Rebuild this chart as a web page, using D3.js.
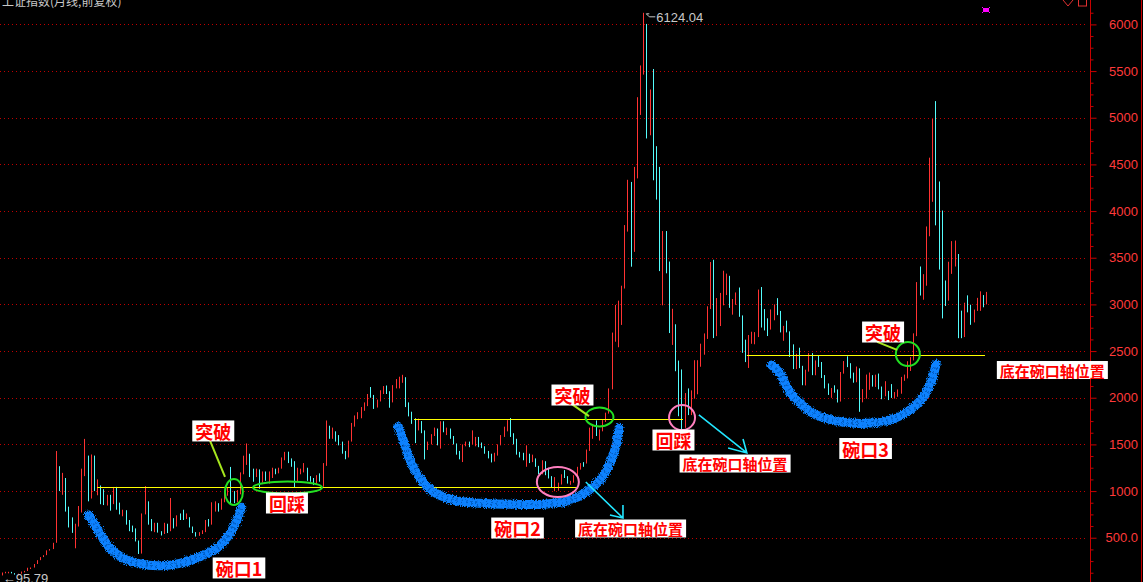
<!DOCTYPE html>
<html>
<head>
<meta charset="utf-8">
<script src="https://cdn.jsdelivr.net/npm/d3@7"></script>
<style>
  html, body { margin: 0; padding: 0; background: #000; overflow: hidden; }
  svg { display: block; }
</style>
</head>
<body>
<svg id="chart" width="1143" height="582"></svg>
<script>
// 上证指数 monthly bars, first bar = 1990-12, last bar = 2016-10
var firstMonth = '1990-12';

var opens = [96.05,
  127.61,129.97,133.01,120.19,113.94,114.83,137.56,143.80,178.43,180.22,218.62,259.60,
  292.75,313.24,364.79,378.30,445.79,1265.79,1050,1135,823,703,603,639,
  780,1238,1358,925,1358,1007,1042,1007,898,903,868,1033,
  833,770,793,680,620,595,467,333.9,759,880,680,574,
  647,562,549,648,580,700,630,722,716,705,717,618,
  555,537,553,572,672,643,816,858,831,918,976,1032,
  917,914,970,1191,1371,1394,1224,1196,1229,1096,1202,1145,
  1194,1233,1206,1243,1343,1411,1339,1313,1105,1211,1217,1247,
  1146,1134,1090,1158,1120,1279,1689,1601,1627,1557,1512,1427,
  1367,1535,1714,1800,1836,1894,1928,2023,2021,1910,1961,2070,
  2073,2065,1959,2112,2119,2214,2218,1920,1834,1764,1689,1747,
  1645,1491,1524,1603,1667,1515,1732,1651,1669,1581,1507,1421,
  1357,1499,1511,1510,1521,1576,1486,1476,1421,1367,1348,1397,
  1497,1590,1675,1741,1595,1555,1399,1386,1342,1396,1320,1340,
  1266,1191,1306,1181,1159,1060,1080,1083,1162,1155,1092,1099,
  1161,1258,1299,1298,1440,1641,1672,1612,1658,1752,1837,2099,
  2675,2786,2881,3183,3841,4109,3820,4471,5218,5552,5954,4871,
  5261,4383,4348,3472,3693,3433,2736,2775,2397,2293,1728,1871,
  1821,1990,2082,2373,2477,2632,2959,3412,2667,2779,2996,3195,
  3277,2989,3051,3109,2870,2592,2398,2638,2638,2655,2979,2820,
  2808,2790,2905,2928,2911,2743,2762,2701,2568,2359,2468,2333,
  2199,2292,2428,2262,2396,2372,2225,2103,2047,2086,2069,1980,
  2269,2385,2365,2236,2177,2300,1979,1994,2098,2175,2141,2220,
  2116,2033,2056,2033,2026,2039,2048,2201,2217,2364,2420,2683,
  3235,3210,3310,3748,4441,4612,4277,3664,3206,3053,3383,3445,
  3539,2738,2688,3004,2938,2917,2930,2979,3085,3005];

var highs = [127.61,
  135.19,134.87,134.25,120.72,114.88,137.56,145.09,178.43,180.92,218.62,259.60,292.75,
  313.24,364.79,378.38,445.79,1429.01,1266.49,1195,1140,833,718,650,840,
  1240,1558.95,1380,1392,1380,1125,1060,1020,960,960,1044,1045,
  876,800,795,690,630,600,470,760,1052.94,890,700,660,
  660,570,660,650,926,710,740,760,800,760,720,620,
  560,560,580,690,700,880,890,870,920,1000,1040,1258.69,
  1000,1010,1200,1379,1510.18,1400,1240,1240,1232,1210,1210,1210,
  1250,1240,1250,1360,1420,1422,1350,1320,1250,1240,1300,1250,
  1160,1140,1170,1190,1300,1756,1700,1680,1640,1600,1530,1430,
  1540,1730,1810,1845,1900,1950,2040,2115,2030,1980,2080,2125,
  2131,2070,2135,2200,2225,2245.44,2220,1950,1850,1780,1776,1750,
  1650,1530,1610,1680,1670,1748,1748,1680,1670,1590,1510,1430,
  1500,1530,1530,1650,1580,1580,1520,1480,1430,1400,1410,1500,
  1600,1690,1760,1783,1620,1560,1420,1410,1490,1400,1390,1350,
  1270,1330,1320,1250,1160,1150,1090,1180,1225,1160,1110,1170,
  1260,1300,1310,1445,1680,1700,1757,1660,1760,1840,2100,2698,
  2994,3040,3200,3850,4335,4312,4473,5220,5560,6124.04,6005,5303,
  5522,4695,4473,3786,3786,3459,2953,2787,2398,2303,2050,2100,
  2079,2402,2402,2579,2689,2980,3454,3478,3068,3123,3361,3330,
  3306,3058,3128,3181,2882,2622,2672,2707,2703,3159,3186,2950,
  2851,2946,3000,3067,2930,2770,2826,2711,2572,2472,2536,2342,
  2300,2478,2478,2400,2453,2383,2243,2153,2104,2133,2089,2276,
  2393,2444,2370,2269,2334,2315,2092,2248,2270,2242,2247,2259,
  2120,2177,2073,2146,2061,2089,2223,2248,2391,2435,2690,3239,
  3406,3324,3835,4572,4986,5178,4317,4006,3256,3457,3678,3684,
  3540,2933,3018,3097,2996,2945,3070,3140,3100,3134];

var lows = [95.79,
  127.61,128.06,120.20,113.91,104.96,114.53,136.08,143.56,175.06,180.22,218.62,259.60,
  292.76,313.44,364.79,378.30,445.79,1000,960,780,610,552,386.85,620,
  770,1160,890,920,1000,955,859,850,845,790,860,800,
  750,730,640,570,560,460,325.89,330,750,640,570,560,
  555,524,540,550,570,600,620,690,690,700,610,550,
  512.83,520,540,560,620,640,780,780,800,880,950,855,
  870,880,965,1180,1280,1150,1100,1150,1025,1090,1110,1080,
  1140,1180,1190,1240,1330,1300,1260,1043,1100,1180,1200,1110,
  1100,1064,1080,1100,1047,1270,1560,1560,1530,1490,1400,1341,
  1360,1530,1690,1770,1780,1860,1910,2000,1880,1895,1960,2040,
  2040,1893,1950,2100,2100,2160,1900,1800,1720,1514,1650,1620,
  1339,1440,1500,1590,1490,1455,1630,1600,1560,1500,1390,1340,
  1311,1480,1470,1500,1480,1470,1460,1400,1350,1307,1316,1380,
  1490,1580,1640,1580,1500,1390,1360,1330,1260,1300,1310,1259,
  1180,1180,1170,1135,1040,998.23,1004,1070,1140,1080,1067,1090,
  1150,1230,1260,1295,1430,1560,1590,1541,1640,1740,1830,2090,
  2600,2541,2780,3170,3780,3404,3563,4350,5030,5462,4778,4812,
  4330,4123,3357,2990,3333,2693,2566,2284,1802,1664.93,1678,1814,
  1814,1990,2037,2332,2461,2630,2950,2639,2660,2768,2990,3100,
  2963,2890,2996,2867,2481,2382,2319,2578,2573,2650,2752,2721,
  2661,2730,2830,2885,2700,2610,2700,2437,2307,2307,2317,2134,
  2132,2280,2242,2241,2330,2211,2100,2030,1999,2054,1949,1959,
  2258,2328,2207,2161,2166,1849,1951,1990,2085,2119,2116,2090,
  1984,2016,1975,1998,1991,2010,2043,2181,2207,2287,2400,2660,
  3095,3050,3200,3730,4099,3847,3373,2850,2983,3040,3327,3406,
  2638,2638,2650,2915,2781,2807,2930,2931,2969,3000];

var closes = [127.61,
  129.97,133.01,120.19,113.94,114.83,137.56,143.80,178.43,180.22,218.62,259.60,292.75,
  313.24,364.79,378.30,445.79,1265.79,1050,1135,823,703,603,639,780.39,
  1238,1358,925,1358,1007,1042,1007,898,903,868,1033,833,
  770,793,680,620,595,467,333.9,759,880,680,574,647.87,
  562,549,648,580,700,630,722,716,705,717,618,555,
  537,553,572,672,643,816,858,831,918,976,1032,917,
  914,970,1191,1371,1394,1224,1196,1229,1096,1202,1145,1194,
  1233,1206,1243,1343,1411,1339,1313,1105,1211,1217,1247,1146,
  1134,1090,1158,1120,1279,1689,1601,1627,1557,1512,1427,1367,
  1535,1714,1800,1836,1894,1928,2023,2021,1910,1961,2070,2073,
  2065,1959,2112,2119,2214,2218,1920,1834,1764,1689,1747,1645,
  1491,1524,1603,1667,1515,1732,1651,1669,1581,1507,1421,1357,
  1499,1511,1510,1521,1576,1486,1476,1421,1367,1348,1397,1497,
  1590,1675,1741,1595,1555,1399,1386,1342,1396,1320,1340,1266,
  1191,1306,1181,1159,1060,1080,1083,1162,1155,1092,1099,1161,
  1258,1299,1298,1440,1641,1672,1612,1658,1752,1837,2099,2675,
  2786,2881,3183,3841,4109,3820,4471,5218,5552,5954,4871,5261,
  4383,4348,3472,3693,3433,2736,2775,2397,2293,1728,1871,1821,
  1990,2082,2373,2477,2632,2959,3412,2667,2779,2996,3195,3277,
  2989,3051,3109,2870,2592,2398,2638,2639,2655,2979,2820,2808,
  2790,2905,2928,2911,2743,2762,2701,2568,2359,2468,2333,2199,
  2292,2428,2262,2396,2372,2225,2103,2047,2086,2069,1980,2269,
  2385,2365,2236,2177,2300,1979,1994,2098,2175,2141,2220,2116,
  2033,2056,2033,2026,2039,2048,2201,2217,2364,2420,2683,3235,
  3210,3310,3748,4441,4612,4277,3664,3206,3053,3383,3445,3539,
  2738,2688,3004,2938,2917,2930,2979,3085,3005,3100];

var yTicks = [500, 1000, 1500, 2000, 2500, 3000, 3500, 4000, 4500, 5000, 5500, 6000];
var yTickLabels = ['500.0', '1000', '1500', '2000', '2500', '3000', '3500', '4000', '4500', '5000', '5500', '6000'];

// hand-drawn notes, anchored as [month index, price]
var bowl1 = [[27.3,744],[30.9,548],[34.1,387],[38.3,280],[43.5,219],[49.8,200],[56.1,226],[62.4,297],[67.7,387],[71.9,548],[74,690],[75.6,826]];
var bowl2 = [[124.9,1690],[126.4,1547],[128.5,1333],[131.7,1137],[135.9,993],[142.2,904],[150.6,869],[161.1,858],[171.6,862],[178.9,904],[184.2,993],[188.4,1119],[191.5,1298],[193.6,1512],[194.4,1673]];
var bowl3 = [[242.4,2351],[245,2262],[247.7,2083],[251.3,1941],[256.6,1815],[263.9,1743],[272.3,1726],[279.7,1762],[286,1869],[290.2,2011],[292.8,2190],[294.2,2362]];
var necklines = [[30, 181, 1040], [129.8, 214.5, 1769], [234.6, 309.6, 2455]];
var breakRings = [[73.1, 990, 9, 13], [90, 1038, 34.5, 6], [188.2, 1794, 14, 9.5], [285.3, 2469, 12, 12]];
var bottomRings = [[175.1, 1097, 21, 15], [214.2, 1788, 13, 12.5]];
var notes = [
  ['突破', 66.6, 1644, 18], ['回踩', 89.8, 872, 18], ['碗口1', 74.7, 176, 18],
  ['碗口2', 162.4, 604, 18], ['突破', 179.7, 2029, 18], ['底在碗口轴位置', 198, 599, 15],
  ['回踩', 211.5, 1547, 18], ['底在碗口轴位置', 230.9, 1295, 15], ['碗口3', 272, 1456, 18],
  ['突破', 277.5, 2704, 18], ['底在碗口轴位置', 330.8, 2297, 15]
];
var pointers = [[[65.6,1537],[70.3,1151]], [[179.5,1931],[184.9,1803]], [[275.6,2598],[281.9,2512]]];
var arrows = [
  [[183.9,1097],[195.6,711],[191.5,743],[195.6,851]],
  [[219.5,1816],[234.6,1408],[228.7,1461],[233.4,1558]]
];

var W = 1143, H = 582;
var axisX = 1090.5;
var svg = d3.select('#chart');

var defs = svg.append('defs');
var spray = defs.append('filter').attr('id', 'spray')
  .attr('x', '-20%').attr('y', '-20%').attr('width', '140%').attr('height', '140%');
spray.append('feTurbulence').attr('type', 'fractalNoise').attr('baseFrequency', 1.1)
  .attr('numOctaves', 1).attr('seed', 4).attr('result', 'noise');
spray.append('feDisplacementMap').attr('in', 'SourceGraphic').attr('in2', 'noise')
  .attr('scale', 6).attr('xChannelSelector', 'R').attr('yChannelSelector', 'G');

svg.append('rect').attr('width', W).attr('height', H).attr('fill', '#000');

var x = d3.scaleLinear().domain([0, closes.length - 1]).range([1.75, 986.3]);
var y = d3.scaleLinear().domain([0, 6000]).range([584.4, 24.4]);

// dotted grid
svg.append('g').selectAll('line').data(yTicks).join('line')
  .attr('x1', 0).attr('x2', 1088)
  .attr('y1', function(d) { return Math.round(y(d)) + 0.5; })
  .attr('y2', function(d) { return Math.round(y(d)) + 0.5; })
  .attr('stroke', '#c00000').attr('stroke-width', 1)
  .attr('stroke-dasharray', '1,3');

// right axis
svg.append('line').attr('x1', axisX).attr('x2', axisX).attr('y1', 0).attr('y2', H)
  .attr('stroke', '#c80000');
svg.append('line').attr('x1', 1141.5).attr('x2', 1141.5).attr('y1', 0).attr('y2', H)
  .attr('stroke', '#c80000');

var minor = d3.range(125, 6250, 125).filter(function(v) { return v % 500 !== 0; });
var minorAxis = svg.append('g').attr('transform', 'translate(' + axisX + ',0)')
  .call(d3.axisRight(y).tickValues(minor).tickSize(3).tickFormat(''));
minorAxis.select('.domain').remove();
minorAxis.selectAll('line').attr('stroke', '#c80000');

var majorAxis = svg.append('g').attr('transform', 'translate(' + axisX + ',0)')
  .call(d3.axisRight(y).tickValues(yTicks).tickSize(6)
    .tickFormat(function(d, i) { return yTickLabels[i]; }));
majorAxis.select('.domain').remove();
majorAxis.selectAll('line').attr('stroke', '#c80000');
majorAxis.selectAll('text')
  .attr('x', 47.5).attr('text-anchor', 'end')
  .attr('fill', '#ff3a3a')
  .style('font-family', '"Liberation Sans", Arial, sans-serif')
  .style('font-size', '13px');

// candles
var idx = d3.range(closes.length);
svg.append('g').selectAll('line').data(idx).join('line')
  .attr('x1', function(i) { return Math.round(x(i)) + 0.5; })
  .attr('x2', function(i) { return Math.round(x(i)) + 0.5; })
  .attr('y1', function(i) { return y(highs[i]); })
  .attr('y2', function(i) { return Math.max(y(lows[i]), y(highs[i]) + 1.5); })
  .attr('stroke', function(i) { return closes[i] >= opens[i] ? '#ff3232' : '#54fcfc'; })
  .attr('stroke-width', 1);

// neck lines
svg.append('g').selectAll('line').data(necklines).join('line')
  .attr('x1', function(d) { return x(d[0]); })
  .attr('x2', function(d) { return x(d[1]); })
  .attr('y1', function(d) { return Math.round(y(d[2])) + 0.5; })
  .attr('y2', function(d) { return Math.round(y(d[2])) + 0.5; })
  .attr('stroke', '#ffff00').attr('stroke-width', 1);

// bowls (sprayed strokes)
var bowlLine = d3.line()
  .x(function(d) { return x(d[0]); })
  .y(function(d) { return y(d[1]); })
  .curve(d3.curveCatmullRom);
var bowlG = svg.append('g').attr('filter', 'url(#spray)');
bowlG.selectAll('path.base').data([bowl1, bowl2, bowl3]).join('path')
  .attr('class', 'base')
  .attr('d', bowlLine)
  .attr('fill', 'none').attr('stroke', '#0a82ff')
  .attr('stroke-width', 9).attr('stroke-linecap', 'round');
bowlG.selectAll('path.speck').data([bowl1, bowl2, bowl3]).join('path')
  .attr('class', 'speck')
  .attr('d', bowlLine)
  .attr('fill', 'none').attr('stroke', '#003a8c').attr('stroke-opacity', 0.55)
  .attr('stroke-width', 6).attr('stroke-dasharray', '1,4');

// rings
svg.append('g').selectAll('ellipse').data(breakRings).join('ellipse')
  .attr('cx', function(d) { return x(d[0]); }).attr('cy', function(d) { return y(d[1]); })
  .attr('rx', function(d) { return d[2]; }).attr('ry', function(d) { return d[3]; })
  .attr('fill', 'none').attr('stroke', '#22e022').attr('stroke-width', 2);
svg.append('g').selectAll('ellipse').data(bottomRings).join('ellipse')
  .attr('cx', function(d) { return x(d[0]); }).attr('cy', function(d) { return y(d[1]); })
  .attr('rx', function(d) { return d[2]; }).attr('ry', function(d) { return d[3]; })
  .attr('fill', 'none').attr('stroke', '#ff7fbf').attr('stroke-width', 2);

// pointers
svg.append('g').selectAll('line').data(pointers).join('line')
  .attr('x1', function(d) { return x(d[0][0]); }).attr('y1', function(d) { return y(d[0][1]); })
  .attr('x2', function(d) { return x(d[1][0]); }).attr('y2', function(d) { return y(d[1][1]); })
  .attr('stroke', '#a6e61e').attr('stroke-width', 2);

var arrowG = svg.append('g').attr('stroke', '#22e6ff').attr('stroke-width', 1.6).attr('fill', 'none');
arrows.forEach(function(a) {
  arrowG.append('path').attr('d',
    'M' + x(a[0][0]) + ',' + y(a[0][1]) + 'L' + x(a[1][0]) + ',' + y(a[1][1]) +
    'M' + x(a[2][0]) + ',' + y(a[2][1]) + 'L' + x(a[1][0]) + ',' + y(a[1][1]) +
    'L' + x(a[3][0]) + ',' + y(a[3][1]));
});

// note boxes
var noteG = svg.append('g');
notes.forEach(function(n) {
  var g = noteG.append('g');
  var t = g.append('text')
    .attr('x', x(n[1])).attr('y', y(n[2]))
    .attr('text-anchor', 'middle').attr('dominant-baseline', 'central')
    .attr('fill', '#ff0000')
    .style('font-family', '"Noto Sans CJK SC", sans-serif')
    .style('font-weight', 'bold')
    .style('font-size', n[3] + 'px')
    .text(n[0]);
  var b = t.node().getBBox();
  g.insert('rect', 'text')
    .attr('x', b.x - 3).attr('y', y(n[2]) - n[3] / 2 - 1.5)
    .attr('width', b.width + 6).attr('height', n[3] + 3)
    .attr('fill', '#ffffff');
});

// captions
svg.append('text').attr('x', 2).attr('y', 5.5)
  .attr('fill', '#c8c8c8')
  .style('font-family', '"Noto Sans CJK SC", sans-serif').style('font-size', '12px')
  .text('上证指数(月线,前复权)');

var peakI = highs.indexOf(d3.max(highs));
svg.append('text').attr('x', x(peakI) + 13).attr('y', y(highs[peakI]) + 9)
  .attr('fill', '#c8c8c8')
  .style('font-family', '"Liberation Sans", Arial, sans-serif').style('font-size', '13px')
  .text(d3.format('.2f')(highs[peakI]));
svg.append('path')
  .attr('d', 'M' + (x(peakI) + 3) + ',' + (y(highs[peakI]) + 1) + 'l3,3 l6,0 M' + (x(peakI) + 3) + ',' + (y(highs[peakI]) + 1) + 'l3,0')
  .attr('stroke', '#c8c8c8').attr('fill', 'none');

var lowI = lows.indexOf(d3.min(lows));
svg.append('text').attr('x', x(lowI) + 1).attr('y', 583)
  .attr('fill', '#c8c8c8')
  .style('font-family', '"Liberation Sans", Arial, sans-serif').style('font-size', '13px')
  .text('\u2190' + d3.format('.2f')(lows[lowI]));

// corner marks
svg.append('rect').attr('x', 983).attr('y', 8).attr('width', 6).attr('height', 4).attr('fill', '#ff00ff');
svg.append('path').attr('d', 'M982,7l2,2M990,7l-2,2M982,13l2,-2M990,13l-2,-2')
  .attr('stroke', '#ff00ff').attr('stroke-width', 1);
svg.append('path').attr('d', 'M1063,0 L1068,6 L1073,0')
  .attr('stroke', '#e03030').attr('fill', 'none');
svg.append('rect').attr('x', 1078.5).attr('y', -2).attr('width', 8).attr('height', 8)
  .attr('stroke', '#e03030').attr('fill', 'none');
</script>
</body>
</html>
